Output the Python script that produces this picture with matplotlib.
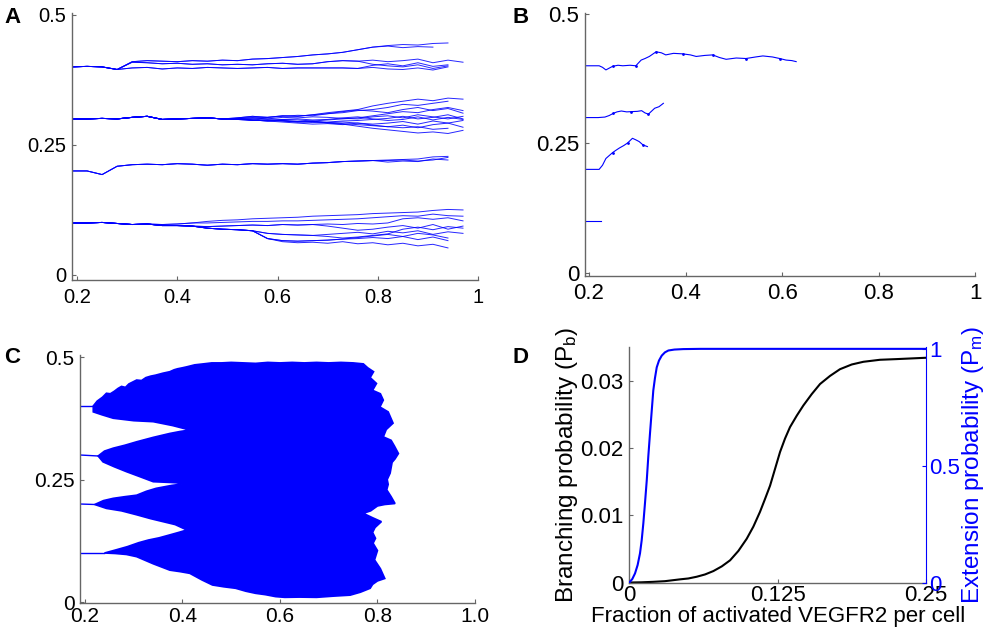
import numpy as np
import matplotlib
matplotlib.use('Agg')
import matplotlib.pyplot as plt

plt.rcParams['font.family'] = ['Liberation Sans', 'DejaVu Sans']
plt.rcParams['mathtext.fontset'] = 'custom'
plt.rcParams['mathtext.rm'] = 'Liberation Sans'
plt.rcParams['mathtext.it'] = 'Liberation Sans'

BLUE = '#0000ff'
AXC = '#666666'

# ---------------- panel A: sprout tip traces ----------------
a_x = [0.19, 0.22, 0.25, 0.28, 0.31, 0.34, 0.37, 0.40, 0.43, 0.46, 0.49, 0.52, 0.55, 0.58,
       0.61, 0.64, 0.67, 0.70, 0.73, 0.76, 0.79, 0.82, 0.85, 0.88, 0.91, 0.94, 0.97]

trunk_04 = [0.400, 0.401, 0.400, 0.395]
a4_1 = trunk_04 + [0.410, 0.412, 0.411, 0.410, 0.412, 0.411, 0.413, 0.412, 0.415, 0.416, 0.418,
                   0.420, 0.423, 0.425, 0.428, 0.433, 0.438, 0.441, 0.443, 0.442, 0.445, 0.446]
a4_2 = trunk_04 + [0.410, 0.412, 0.411, 0.410, 0.412, 0.411, 0.413, 0.412, 0.415, 0.416, 0.418,
                   0.420, 0.423, 0.425, 0.428, 0.433, 0.438, 0.440, 0.437, 0.439, 0.438]
a4_3 = trunk_04 + [0.409, 0.408, 0.406, 0.407, 0.405, 0.406, 0.404, 0.405, 0.404, 0.406, 0.407,
                   0.405, 0.406, 0.410, 0.412, 0.411, 0.413, 0.410, 0.412, 0.415, 0.408, 0.413, 0.409]
a4_4 = trunk_04 + [0.398, 0.399, 0.396, 0.398, 0.397, 0.399, 0.398, 0.397, 0.398, 0.399, 0.397,
                   0.398, 0.398, 0.398, 0.398, 0.397, 0.399, 0.396, 0.395, 0.398, 0.394, 0.400]
a4_5 = trunk_04 + [0.409, 0.408, 0.406, 0.407, 0.405, 0.406, 0.404, 0.405, 0.404, 0.406, 0.407,
                   0.405, 0.406, 0.410, 0.412, 0.411, 0.405, 0.402, 0.400, 0.404, 0.397, 0.402]
a4_6 = trunk_04 + [0.398, 0.399, 0.396, 0.398, 0.397, 0.399, 0.398, 0.397, 0.398, 0.399, 0.397,
                   0.398, 0.398, 0.398, 0.398, 0.397, 0.403, 0.406, 0.402, 0.408, 0.401, 0.404]

trunk_03 = [0.300, 0.300, 0.301, 0.300, 0.303, 0.305, 0.299, 0.300, 0.301, 0.302, 0.300]
a3_1 = trunk_03 + [0.302, 0.305, 0.303, 0.306, 0.305, 0.308, 0.312, 0.315, 0.318, 0.325, 0.330, 0.334, 0.338, 0.335, 0.340, 0.338]
a3_2 = trunk_03 + [0.302, 0.305, 0.303, 0.306, 0.305, 0.308, 0.310, 0.312, 0.316, 0.318, 0.322, 0.328, 0.326, 0.330, 0.334]
a3_3 = trunk_03 + [0.300, 0.298, 0.296, 0.297, 0.295, 0.296, 0.298, 0.300, 0.302, 0.306, 0.310, 0.314, 0.312, 0.318, 0.322, 0.316]
a3_4 = trunk_03 + [0.300, 0.298, 0.296, 0.297, 0.295, 0.293, 0.294, 0.296, 0.297, 0.299, 0.301, 0.305, 0.300, 0.303, 0.308, 0.300]
a3_5 = trunk_03 + [0.299, 0.297, 0.298, 0.296, 0.294, 0.295, 0.293, 0.294, 0.292, 0.290, 0.292, 0.295, 0.290, 0.296, 0.292, 0.297]
a3_6 = trunk_03 + [0.299, 0.297, 0.298, 0.296, 0.294, 0.295, 0.293, 0.291, 0.289, 0.287, 0.285, 0.283, 0.285, 0.280, 0.282]
a3_7 = trunk_03 + [0.301, 0.302, 0.300, 0.299, 0.298, 0.296, 0.292, 0.290, 0.286, 0.282, 0.279, 0.276, 0.273, 0.275, 0.272, 0.278]
a3_8 = trunk_03 + [0.301, 0.302, 0.300, 0.303, 0.302, 0.304, 0.303, 0.301, 0.300, 0.304, 0.306, 0.302, 0.308, 0.304, 0.300, 0.305]
a3_9 = trunk_03 + [0.299, 0.300, 0.297, 0.299, 0.300, 0.298, 0.299, 0.302, 0.304, 0.300, 0.297, 0.299, 0.304, 0.298, 0.303, 0.299]
a3_10 = trunk_03 + [0.301, 0.302, 0.303, 0.305, 0.307, 0.306, 0.310, 0.314, 0.317, 0.315, 0.312, 0.318, 0.322, 0.316, 0.320, 0.311]
a3_11 = trunk_03 + [0.300, 0.298, 0.296, 0.294, 0.292, 0.290, 0.291, 0.289, 0.292, 0.288, 0.285, 0.288, 0.283, 0.289, 0.292, 0.284]

trunk_02 = [0.200, 0.200, 0.193, 0.209, 0.212, 0.213, 0.212, 0.214, 0.213, 0.211, 0.213,
            0.212, 0.214, 0.213, 0.214, 0.213, 0.215, 0.216, 0.218, 0.219, 0.220]
a2_1 = trunk_02 + [0.221, 0.222, 0.223, 0.227, 0.228]
a2_2 = trunk_02 + [0.217, 0.219, 0.218, 0.223, 0.221]
a2_3 = trunk_02 + [0.220, 0.221, 0.219, 0.221, 0.226]

trunk_01 = [0.100, 0.100, 0.101, 0.099, 0.097, 0.098]
a1_1 = trunk_01 + [0.097, 0.098, 0.100, 0.103, 0.105, 0.106, 0.108, 0.109, 0.110, 0.111, 0.113,
                   0.114, 0.115, 0.116, 0.118, 0.119, 0.120, 0.121, 0.124, 0.126, 0.125]
a1_2 = trunk_01 + [0.097, 0.098, 0.100, 0.100, 0.101, 0.102, 0.103, 0.103, 0.104, 0.104, 0.105,
                   0.106, 0.107, 0.108, 0.110, 0.112, 0.114, 0.113, 0.117, 0.114, 0.113]
a1_3 = trunk_01 + [0.095, 0.095, 0.094, 0.093, 0.094, 0.095, 0.096, 0.095, 0.097, 0.096, 0.097,
                   0.098, 0.097, 0.099, 0.098, 0.100, 0.108, 0.110, 0.107, 0.110, 0.104]
a1_4 = trunk_01 + [0.095, 0.095, 0.094, 0.090, 0.088, 0.087, 0.085, 0.080, 0.078, 0.077, 0.076,
                   0.078, 0.080, 0.082, 0.079, 0.084, 0.081, 0.085, 0.078, 0.083, 0.080]
a1_5 = trunk_01 + [0.095, 0.095, 0.094, 0.090, 0.088, 0.087, 0.085, 0.070, 0.066, 0.065, 0.066,
                   0.067, 0.069, 0.070, 0.072, 0.070, 0.074, 0.068, 0.073, 0.066]
a1_6 = trunk_01 + [0.095, 0.095, 0.094, 0.090, 0.088, 0.087, 0.085, 0.070, 0.064, 0.062, 0.063,
                   0.061, 0.064, 0.060, 0.062, 0.058, 0.061, 0.056, 0.059, 0.052]
a1_7 = trunk_01 + [0.095, 0.095, 0.094, 0.090, 0.088, 0.087, 0.085, 0.080, 0.078, 0.077, 0.076,
                   0.074, 0.071, 0.073, 0.076, 0.079, 0.088, 0.092, 0.087, 0.093, 0.090]
a1_8 = trunk_01 + [0.095, 0.095, 0.094, 0.093, 0.094, 0.095, 0.096, 0.095, 0.097, 0.096, 0.097,
                   0.094, 0.090, 0.086, 0.088, 0.092, 0.095, 0.090, 0.097, 0.088, 0.094]
a1_9 = trunk_01 + [0.095, 0.095, 0.094, 0.090, 0.088, 0.087, 0.085, 0.070, 0.066, 0.065, 0.066,
                   0.067, 0.069, 0.072, 0.075, 0.078, 0.074, 0.080, 0.077, 0.071]

a_traces = [a4_1, a4_2, a4_3, a4_4, a4_5, a4_6,
            a3_1, a3_2, a3_3, a3_4, a3_5, a3_6, a3_7, a3_8, a3_9, a3_10, a3_11,
            a2_1, a2_2, a2_3,
            a1_1, a1_2, a1_3, a1_4, a1_5, a1_6, a1_7, a1_8, a1_9]

# ---------------- panel B: single run ----------------
b4_x = [0.19, 0.221, 0.228, 0.235, 0.249, 0.260, 0.270, 0.285, 0.297, 0.308, 0.316, 0.325, 0.339,
        0.350, 0.359, 0.375, 0.394, 0.410, 0.422, 0.440, 0.456, 0.470, 0.484, 0.505, 0.525, 0.545,
        0.560, 0.580, 0.595, 0.608, 0.620, 0.629]
b4_y = [0.400, 0.400, 0.397, 0.392, 0.399, 0.401, 0.400, 0.401, 0.400, 0.411, 0.414, 0.418, 0.427,
        0.425, 0.421, 0.424, 0.423, 0.421, 0.418, 0.420, 0.421, 0.416, 0.4125, 0.415, 0.414, 0.417,
        0.419, 0.417, 0.414, 0.411, 0.410, 0.408]
b3_x = [0.19, 0.219, 0.233, 0.242, 0.250, 0.258, 0.267, 0.278, 0.288, 0.300, 0.309, 0.316, 0.323,
        0.336, 0.345, 0.354]
b3_y = [0.300, 0.300, 0.301, 0.304, 0.308, 0.311, 0.3127, 0.311, 0.3115, 0.312, 0.3133, 0.309,
        0.3066, 0.318, 0.321, 0.3275]
b2_x = [0.19, 0.221, 0.228, 0.235, 0.249, 0.256, 0.263, 0.272, 0.280, 0.290, 0.297, 0.304, 0.312,
        0.321]
b2_y = [0.200, 0.200, 0.208, 0.221, 0.2325, 0.237, 0.2413, 0.246, 0.251, 0.260, 0.257, 0.2536,
        0.247, 0.244]
b1_x = [0.19, 0.224]
b1_y = [0.101, 0.101]

# ---------------- panel C: envelope of all runs ----------------
c_stub_x = [[0.19, 0.217], [0.19, 0.227], [0.19, 0.220], [0.19, 0.240]]
c_stub_y = [[0.400, 0.400], [0.300, 0.298], [0.200, 0.199], [0.100, 0.100]]
c_env_x = [0.217, 0.225, 0.236, 0.244, 0.252, 0.260, 0.268, 0.275, 0.283, 0.290, 0.298, 0.306, 0.316,
           0.325, 0.335, 0.345, 0.360, 0.374, 0.383, 0.390, 0.400, 0.409, 0.425, 0.443, 0.460,
           0.480, 0.500, 0.525, 0.550, 0.575, 0.600, 0.625, 0.650, 0.675, 0.700, 0.725, 0.750, 0.771,
           0.780, 0.792, 0.785, 0.798, 0.790, 0.806, 0.812, 0.805, 0.822, 0.832, 0.818, 0.812, 0.828,
           0.835, 0.843, 0.836, 0.830, 0.826, 0.820, 0.822, 0.819, 0.828, 0.836, 0.815, 0.800, 0.786,
           0.771, 0.790, 0.808, 0.795, 0.790, 0.796, 0.791, 0.800, 0.794, 0.806, 0.815, 0.800, 0.790,
           0.785, 0.765, 0.744, 0.710, 0.675, 0.640, 0.610, 0.591, 0.570, 0.550, 0.530, 0.509, 0.485,
           0.4615, 0.440, 0.415, 0.395, 0.374, 0.340, 0.306, 0.285, 0.262, 0.240,
           0.262, 0.287, 0.310, 0.330, 0.352, 0.374, 0.392, 0.409,
           0.385, 0.360, 0.335, 0.306, 0.275, 0.244, 0.220,
           0.238, 0.258, 0.282, 0.306, 0.326, 0.346, 0.378, 0.409,
           0.375, 0.340, 0.312, 0.285, 0.260, 0.237, 0.227,
           0.240, 0.258, 0.282, 0.306, 0.340, 0.374, 0.395, 0.415,
           0.380, 0.340, 0.300, 0.258, 0.235, 0.217]
c_env_y = [0.400, 0.410, 0.418, 0.426, 0.425, 0.430, 0.436, 0.440, 0.438, 0.445, 0.449, 0.453, 0.452,
           0.458, 0.461, 0.463, 0.467, 0.470, 0.474, 0.476, 0.478, 0.480, 0.484, 0.486, 0.488,
           0.488, 0.489, 0.488, 0.487, 0.489, 0.488, 0.489, 0.488, 0.489, 0.488, 0.489, 0.488, 0.486,
           0.478, 0.470, 0.458, 0.446, 0.432, 0.425, 0.412, 0.398, 0.388, 0.365, 0.352, 0.337, 0.330,
           0.318, 0.303, 0.292, 0.285, 0.263, 0.250, 0.240, 0.229, 0.215, 0.201, 0.199, 0.196, 0.186,
           0.181, 0.172, 0.164, 0.152, 0.142, 0.130, 0.120, 0.105, 0.086, 0.068, 0.048, 0.043, 0.036,
           0.028, 0.020, 0.014, 0.012, 0.0095, 0.010, 0.0095, 0.011, 0.015, 0.0177, 0.022, 0.028, 0.031,
           0.0347, 0.045, 0.0585, 0.062, 0.065, 0.078, 0.0925, 0.097, 0.099, 0.100,
           0.106, 0.113, 0.121, 0.1265, 0.131, 0.137, 0.142, 0.147,
           0.158, 0.164, 0.170, 0.178, 0.186, 0.191, 0.199,
           0.207, 0.2116, 0.215, 0.218, 0.226, 0.232, 0.238, 0.242,
           0.244, 0.2455, 0.256, 0.266, 0.276, 0.286, 0.298,
           0.308, 0.314, 0.320, 0.327, 0.336, 0.344, 0.348, 0.351,
           0.360, 0.368, 0.370, 0.375, 0.382, 0.388]

# ---------------- panel D: probability curves ----------------
pb_x = [0.0, 0.010, 0.020, 0.030, 0.0427, 0.0497, 0.0568, 0.0638, 0.0708, 0.0779, 0.0849, 0.0919,
        0.0989, 0.1045, 0.1101, 0.1143, 0.1186, 0.1228, 0.127, 0.1312, 0.1354, 0.1411, 0.1466,
        0.1537, 0.1607, 0.1691, 0.1775, 0.1874, 0.1972, 0.2112, 0.2253, 0.2377, 0.25]
pb_y = [0.0, 0.00003, 0.0001, 0.0002, 0.00047, 0.0006, 0.00086, 0.0012, 0.0017, 0.0024, 0.0033,
        0.0047, 0.0065, 0.0083, 0.0105, 0.0124, 0.0144, 0.0169, 0.0194, 0.0214, 0.0231, 0.0248,
        0.0263, 0.0280, 0.0295, 0.0307, 0.0317, 0.0324, 0.0328, 0.0331, 0.0332, 0.0333, 0.0334]
pm_x = [0.0, 0.0025, 0.0048, 0.007, 0.009, 0.0104, 0.0118, 0.0132, 0.0147, 0.016, 0.0174, 0.0188,
        0.0202, 0.0216, 0.0231, 0.025, 0.0273, 0.030, 0.0329, 0.038, 0.0455, 0.06, 0.25]
pm_y = [0.0, 0.015, 0.039, 0.075, 0.125, 0.180, 0.253, 0.340, 0.438, 0.540, 0.637, 0.730,
        0.822, 0.875, 0.921, 0.950, 0.971, 0.985, 0.993, 0.997, 0.999, 1.0, 1.0]


def style_axes(ax, fs=14):
    for side in ['top', 'right']:
        ax.spines[side].set_visible(False)
    for side in ['left', 'bottom']:
        ax.spines[side].set_color(AXC)
        ax.spines[side].set_linewidth(1.0)
    ax.tick_params(direction='in', length=3, width=0.8, color=AXC, labelsize=fs, pad=4)


fig = plt.figure(figsize=(9.92, 6.34), dpi=100)

# A
axA = fig.add_axes([0.0726, 0.5584, 0.4093, 0.4206])
for ys in a_traces:
    axA.plot(a_x[:len(ys)], ys, color=BLUE, lw=0.7, alpha=0.85)
axA.set_xlim(0.19, 1.0)
axA.set_ylim(-0.0096, 0.503)
axA.set_xticks([0.2, 0.4, 0.6, 0.8, 1.0])
axA.set_xticklabels(['0.2', '0.4', '0.6', '0.8', '1'])
axA.set_yticks([0, 0.25, 0.5])
axA.set_yticklabels(['0', '0.25', '0.5'])
style_axes(axA, fs=14.5)
axA.tick_params(axis='x', pad=6)

# B
axB = fig.add_axes([0.5897, 0.5647, 0.3935, 0.4153])
for bx, by in [(b4_x, b4_y), (b3_x, b3_y), (b2_x, b2_y), (b1_x, b1_y)]:
    axB.plot(bx, by, color=BLUE, lw=0.8, marker='.', markersize=2, markevery=4)
axB.set_xlim(0.1917, 1.0)
axB.set_ylim(-0.0058, 0.5025)
axB.set_xticks([0.2, 0.4, 0.6, 0.8, 1.0])
axB.set_xticklabels(['0.2', '0.4', '0.6', '0.8', '1'])
axB.set_yticks([0, 0.25, 0.5])
axB.set_yticklabels(['0', '0.25', '0.5'])
style_axes(axB, fs=16)
axB.tick_params(axis='x', pad=5)

# C
axC = fig.add_axes([0.0806, 0.0489, 0.3982, 0.3911])
axC.fill(c_env_x, c_env_y, color=BLUE, lw=1.2, edgecolor=BLUE)
for sx, sy in zip(c_stub_x, c_stub_y):
    axC.plot(sx, sy, color=BLUE, lw=1.0)
axC.set_xlim(0.1897, 1.0)
axC.set_ylim(-0.002, 0.504)
axC.set_xticks([0.2, 0.4, 0.6, 0.8, 1.0])
axC.set_xticklabels(['0.2', '0.4', '0.6', '0.8', '1.0'])
axC.set_yticks([0, 0.25, 0.5])
axC.set_yticklabels(['0', '0.25', '0.5'])
style_axes(axC, fs=15)
axC.tick_params(axis='x', pad=3)

# D
axD = fig.add_axes([0.6344, 0.0812, 0.2991, 0.3715])
axD.plot(pb_x, pb_y, color='black', lw=1.5)
axD.set_xlim(0, 0.25)
axD.set_ylim(0, 0.035)
axD.set_xticks([0, 0.125, 0.25])
axD.set_xticklabels(['0', '0.125', '0.25'])
axD.set_yticks([0, 0.01, 0.02, 0.03])
axD.set_yticklabels(['0', '0.01', '0.02', '0.03'])
style_axes(axD, fs=16)
axD.tick_params(axis='x', pad=2)
axD.set_xlabel('Fraction of activated VEGFR2 per cell', fontsize=16, labelpad=0)
axD.set_ylabel(r'Branching probability (P$_\mathregular{b}$)', fontsize=17.5, labelpad=0)

axD2 = axD.twinx()
axD2.plot(pm_x, pm_y, color=BLUE, lw=1.5)
axD2.set_ylim(0, 1.008)
axD2.set_yticks([0, 0.5, 1])
axD2.set_yticklabels(['0', '0.5', '1'])
for side in ['top', 'left', 'bottom']:
    axD2.spines[side].set_visible(False)
axD2.spines['right'].set_color(BLUE)
axD2.tick_params(direction='in', length=3, width=0.8, color=BLUE, labelcolor=BLUE,
                 labelsize=16, pad=2)
axD2.set_ylabel(r'Extension probability (P$_\mathregular{m}$)', fontsize=17.5, color=BLUE,
                labelpad=0)

# panel letters
for lab, (px, py) in zip('ABCD', [(0.004, 0.989), (0.517, 0.989), (0.004, 0.452), (0.517, 0.452)]):
    fig.text(px, py, lab, fontsize=16, fontweight='bold', va='top', ha='left')

fig.savefig('out.png', dpi=100)
